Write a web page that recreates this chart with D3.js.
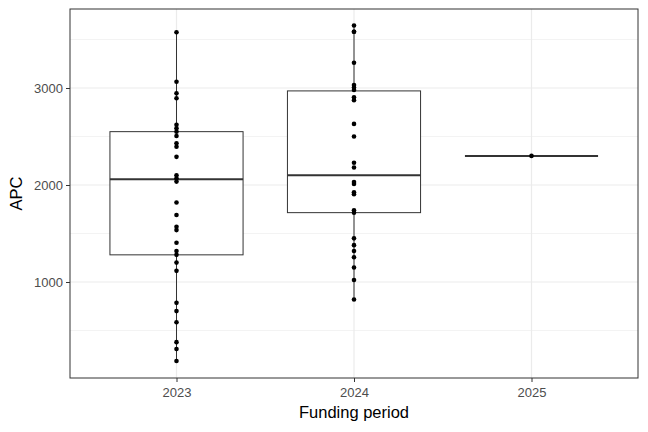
<!DOCTYPE html>
<html><head><meta charset="utf-8">
<script src="https://cdn.jsdelivr.net/npm/d3@7"></script>
<style>body{margin:0;background:#fff;font-family:"Liberation Sans",Arial,sans-serif}</style>
</head><body><div id="chart"></div>
<script>
var periods = ["2023", "2024", "2025"]
var apc2023 = [3575,3065,2945,2895,2620,2585,2550,2505,2430,2395,2290,2100,2070,2035,1820,1690,1570,1535,1405,1320,1280,1200,1115,785,700,585,380,310,185]
var apc2024 = [3645,3580,3580,3260,3030,3005,2980,2905,2875,2630,2500,2230,2180,2030,2010,1925,1905,1740,1715,1450,1380,1320,1255,1150,1020,820]
var apc2025 = [2300]
var boxQ1 = [1280, 1715, 2300]
var boxMedian = [2060, 2100, 2300]
var boxQ3 = [2550, 2970, 2300]
var yTicks = [1000, 2000, 3000]

var W = 648, H = 432
var m = {left: 70, right: 10, top: 9, bottom: 54}
var svg = d3.select('#chart').append('svg').attr('width', W).attr('height', H)

var x = d3.scalePoint().domain(periods).range([m.left, W - m.right]).padding(0.6)
var boxW = x.step() * 0.75
var y = d3.scaleLinear().domain([1000, 2000]).range([282, 185])

var series = [apc2023, apc2024, apc2025]

// grid
var g = svg.append('g')
var minor = [500, 1500, 2500, 3500]
g.selectAll('line.minor').data(minor).join('line')
  .attr('x1', m.left).attr('x2', W - m.right)
  .attr('y1', d => y(d)).attr('y2', d => y(d))
  .attr('stroke', '#ebebeb').attr('stroke-width', 0.6)
g.selectAll('line.major').data(yTicks).join('line')
  .attr('x1', m.left).attr('x2', W - m.right)
  .attr('y1', d => y(d)).attr('y2', d => y(d))
  .attr('stroke', '#ebebeb').attr('stroke-width', 1.2)
g.selectAll('line.vx').data(periods).join('line')
  .attr('x1', d => x(d)).attr('x2', d => x(d))
  .attr('y1', m.top).attr('y2', H - m.bottom)
  .attr('stroke', '#ebebeb').attr('stroke-width', 1.2)

// boxes
periods.forEach(function (p, i) {
  var cx = x(p)
  var vals = series[i]
  svg.append('line').attr('x1', cx).attr('x2', cx)
    .attr('y1', y(d3.max(vals))).attr('y2', y(d3.min(vals)))
    .attr('stroke', '#333').attr('stroke-width', 1)
  svg.append('rect').attr('x', cx - boxW / 2).attr('width', boxW)
    .attr('y', y(boxQ3[i])).attr('height', Math.max(0, y(boxQ1[i]) - y(boxQ3[i])))
    .attr('fill', '#fff').attr('stroke', '#333').attr('stroke-width', 1)
  svg.append('line').attr('x1', cx - boxW / 2).attr('x2', cx + boxW / 2)
    .attr('y1', y(boxMedian[i])).attr('y2', y(boxMedian[i]))
    .attr('stroke', '#333').attr('stroke-width', 2)
  svg.append('g').selectAll('circle').data(vals).join('circle')
    .attr('cx', cx).attr('cy', d => y(d)).attr('r', 2.3).attr('fill', '#000')
})

// panel border
svg.append('rect').attr('x', m.left).attr('y', m.top)
  .attr('width', W - m.left - m.right).attr('height', H - m.top - m.bottom)
  .attr('fill', 'none').attr('stroke', '#333').attr('stroke-width', 1)

// axes
var yAxis = svg.append('g').attr('transform', 'translate(' + m.left + ',0)')
  .call(d3.axisLeft(y).tickValues(yTicks).tickFormat(d3.format('d')).tickSize(4).tickSizeOuter(0))
var xAxis = svg.append('g').attr('transform', 'translate(0,' + (H - m.bottom) + ')')
  .call(d3.axisBottom(x).tickSize(4).tickSizeOuter(0))
;[xAxis, yAxis].forEach(function (a) {
  a.select('.domain').remove()
  a.selectAll('line').attr('stroke', '#333')
  a.selectAll('text').attr('fill', '#4d4d4d').style('font-size', '13px').style('font-family', 'Liberation Sans, Arial, sans-serif')
})
xAxis.selectAll('text').attr('dy', '0.95em')

svg.append('text').attr('x', (m.left + W - m.right) / 2).attr('y', 418)
  .attr('text-anchor', 'middle').style('font-size', '16.5px').text('Funding period')
svg.append('text').attr('transform', 'translate(22,' + ((m.top + H - m.bottom) / 2) + ') rotate(-90)')
  .attr('text-anchor', 'middle').style('font-size', '16.5px').text('APC')
</script></body></html>
